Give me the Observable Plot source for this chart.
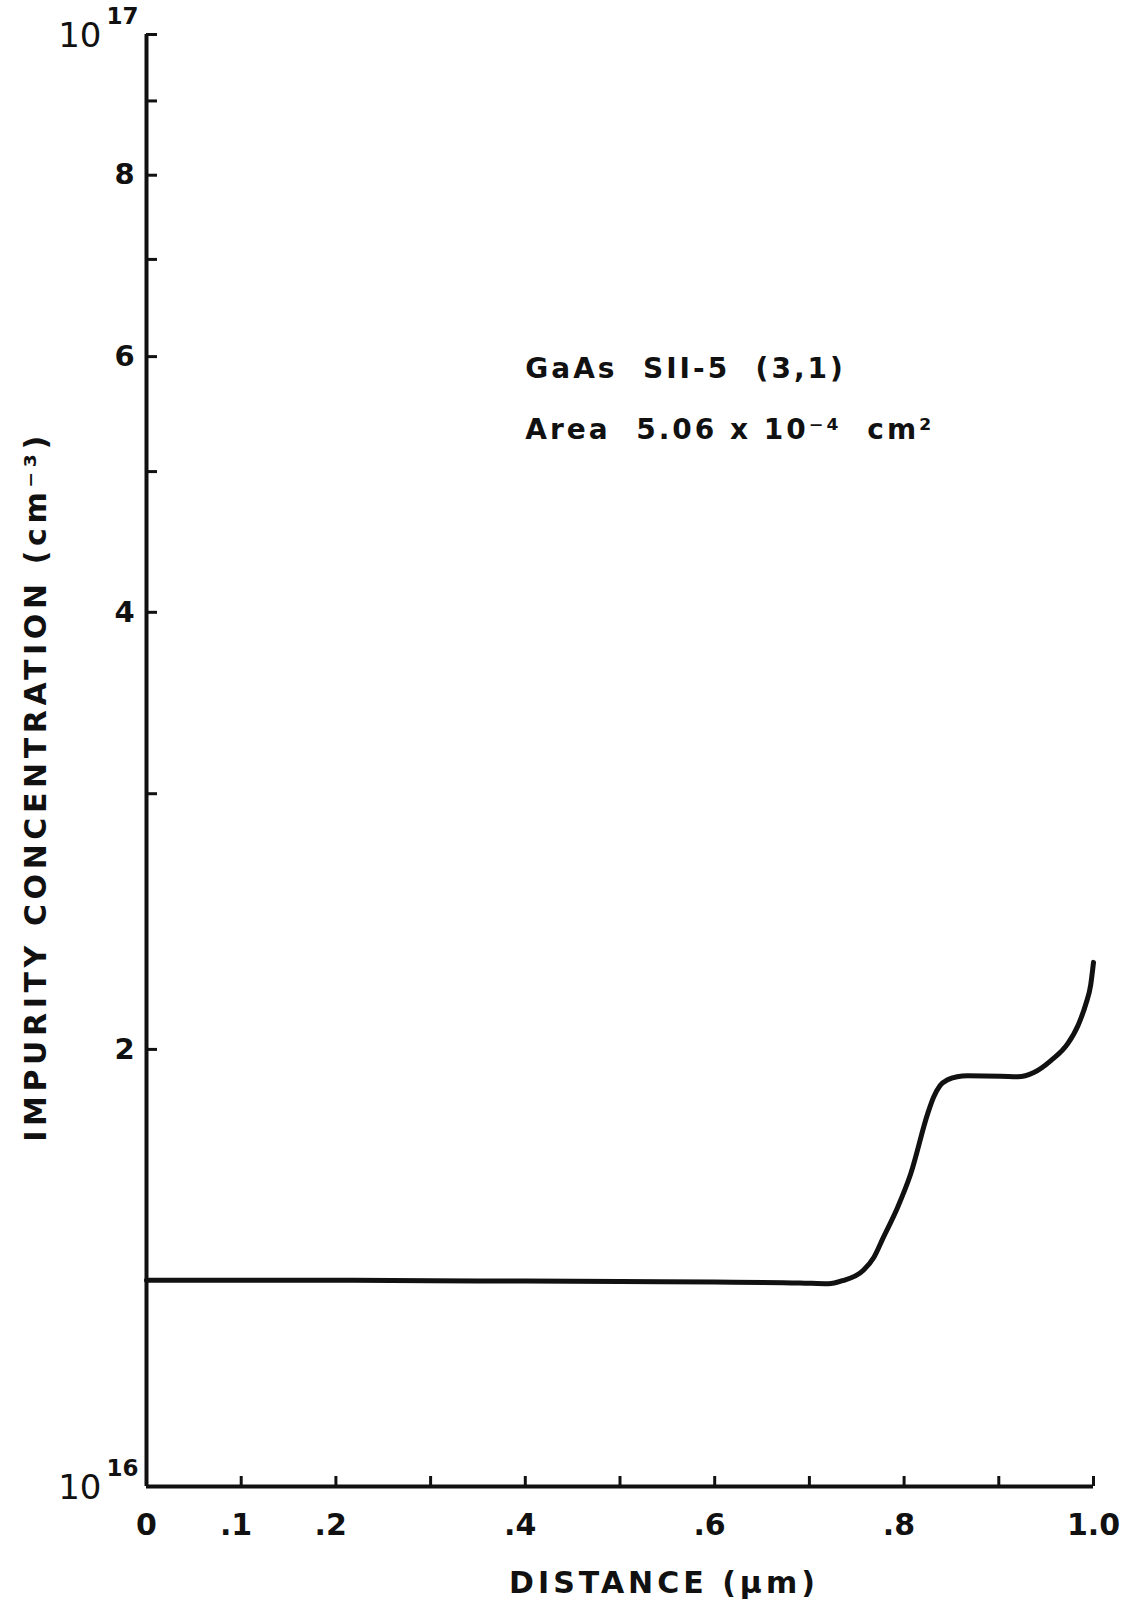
<!DOCTYPE html>
<html>
<head>
<meta charset="utf-8">
<script src="https://cdn.jsdelivr.net/npm/d3@7"></script>
<script src="https://cdn.jsdelivr.net/npm/@observablehq/plot@0.6"></script>
<style>
  body { margin: 0; background: #ffffff; }
  [aria-label="spaced-x"] { letter-spacing: 4px; }
  [aria-label="spaced-y"] { letter-spacing: 4.6px; }
  [aria-label="spaced-a"] { letter-spacing: 3px; }
</style>
</head>
<body>
<div id="chart"></div>
<script>
// ---- data ----
const distance = [0, 0.1, 0.2, 0.3, 0.4, 0.5, 0.6, 0.69, 0.72, 0.735, 0.757, 0.768, 0.778, 0.793, 0.807, 0.825, 0.831, 0.838, 0.846, 0.856, 0.867, 0.902, 0.920, 0.937, 0.955, 0.973, 0.984, 0.992, 0.997, 1.0];
const concentration = [1.387e16, 1.387e16, 1.387e16, 1.386e16, 1.385e16, 1.384e16, 1.383e16, 1.381e16, 1.379e16, 1.386e16, 1.409e16, 1.438e16, 1.484e16, 1.556e16, 1.642e16, 1.807e16, 1.853e16, 1.889e16, 1.906e16, 1.915e16, 1.918e16, 1.917e16, 1.915e16, 1.928e16, 1.965e16, 2.019e16, 2.080e16, 2.150e16, 2.215e16, 2.296e16];

const xTicks = [0, 0.1, 0.2, 0.3, 0.4, 0.5, 0.6, 0.7, 0.8, 0.9, 1.0];
const xTickLabels = ["0", ".1", ".2", "", ".4", "", ".6", "", ".8", "", "1.0"];

const yTicks = [1e16, 2e16, 3e16, 4e16, 5e16, 6e16, 7e16, 8e16, 9e16, 1e17];
const yTickLabels = ["", "2", "", "4", "", "6", "", "8", "", ""];

const yPowerTicks = [1e16, 1e17];
const yPowerBase = ["10", "10"];
const yPowerExp = ["16", "17"];

const xTitle = "DISTANCE (\u00b5m)";
const yTitle = "IMPURITY CONCENTRATION (cm\u207b\u00b3)";
const annotationLines = ["GaAs  SII-5  (3,1)", "Area  5.06 x 10\u207b\u2074  cm\u00b2"];

// ---- build table ----
const profile = distance.map((x, i) => ({x, y: concentration[i]}));

const W = 1127, H = 1621;
const mL = 146, mR = 34, mT = 34, mB = 135;
const plotW = W - mL - mR, plotH = H - mT - mB;

const dotLabels = xTicks.map((d, i) => ({d, t: xTickLabels[i]})).filter(o => o.t.startsWith("."));
const plainLabels = xTicks.map((d, i) => ({d, t: xTickLabels[i]})).filter(o => o.t !== "" && !o.t.startsWith("."));

const ink = "#111";

const chart = Plot.plot({
  width: W,
  height: H,
  marginLeft: mL,
  marginRight: mR,
  marginTop: mT,
  marginBottom: mB,
  style: {fontFamily: "DejaVu Sans, sans-serif", color: ink, background: "#ffffff", overflow: "visible"},
  x: {domain: [0, 1], axis: null},
  y: {type: "log", domain: [1e16, 1e17], axis: null},
  marks: [
    // axis lines
    Plot.ruleX([0], {x: d => d, stroke: ink, strokeWidth: 4}),
    Plot.ruleY([1e16], {y: d => d, stroke: ink, strokeWidth: 4}),
    // inward ticks
    Plot.ruleX(xTicks, {x: d => d, insetTop: plotH - 10, stroke: ink, strokeWidth: 3}),
    Plot.ruleY(yTicks, {y: d => d, insetRight: plotW - 11, stroke: ink, strokeWidth: 3}),
    // x tick labels
    Plot.text(plainLabels, {x: o => o.d, y: () => 1e16, text: o => o.t, dy: 39, fontSize: 30, fontWeight: "bold", textAnchor: "middle", fill: ink}),
    Plot.text(dotLabels, {x: o => o.d, y: () => 1e16, text: o => o.t, dy: 39, dx: 11, fontSize: 30, fontWeight: "bold", textAnchor: "end", fill: ink}),
    // y tick labels
    Plot.text(yTicks, {x: () => 0, y: d => d, text: (d, i) => yTickLabels[i], dx: -22, fontSize: 29, fontWeight: "bold", textAnchor: "middle", fill: ink}),
    Plot.text(yPowerTicks, {x: () => 0, y: d => d, text: (d, i) => yPowerBase[i], dx: -45, dy: 2, fontSize: 34, textAnchor: "end", fill: ink}),
    Plot.text(yPowerTicks, {x: () => 0, y: d => d, text: (d, i) => yPowerExp[i], dx: -40, dy: -18, fontSize: 23, textAnchor: "start", fontWeight: "bold", fill: ink}),
    // axis titles
    Plot.text([xTitle], {frameAnchor: "bottom", text: d => d, dx: 44, dy: 106, fontSize: 30, fontWeight: "bold", textAnchor: "middle", fill: ink, ariaLabel: () => "spaced-x"}),
    Plot.text([yTitle], {frameAnchor: "left", text: d => d, rotate: -90, dx: -110, dy: 26, fontSize: 30, fontWeight: "bold", textAnchor: "middle", fill: ink, ariaLabel: () => "spaced-y"}),
    // annotation
    Plot.text([annotationLines.join("\n")], {x: () => 0.40, y: () => 6.21e16, text: d => d, lineAnchor: "top", textAnchor: "start", lineHeight: 2.18, fontSize: 28, fontWeight: "bold", fill: ink, ariaLabel: () => "spaced-a"}),
    // profile curve
    Plot.line(profile, {x: "x", y: "y", curve: "monotone-x", stroke: ink, strokeWidth: 5, strokeLinecap: "round", strokeLinejoin: "round"})
  ]
});

document.getElementById("chart").appendChild(chart);
</script>
</body>
</html>
